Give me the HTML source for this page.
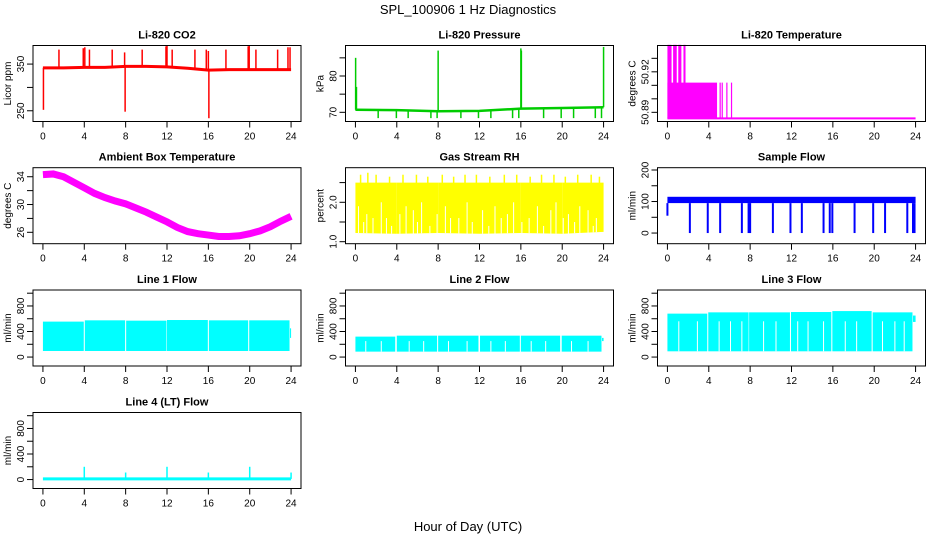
<!DOCTYPE html>
<html><head><meta charset="utf-8"><style>
html,body{margin:0;padding:0;background:#fff}
svg{display:block;font-family:"Liberation Sans",sans-serif}
</style></head><body>
<svg id="chart" width="936" height="540" viewBox="0 0 936 540" xmlns="http://www.w3.org/2000/svg">
<text x="468" y="14" text-anchor="middle" font-size="13">SPL_100906  1 Hz Diagnostics</text>
<text x="468" y="531" text-anchor="middle" font-size="13">Hour of Day (UTC)</text>
</svg>
<script>
const xTickHours = [0,4,8,12,16,20,24];
// CO2
const co2BaseHours = [0,2,4,6,8,10,12,14,16,18,20,22,24];
const co2BaseValues = [342,342,343,343,345,345,344,341,337,338,338,338,338];
const co2SpikeHours = [0.05,1.55,3.9,4.05,4.5,6.7,7.95,7.9,9.6,11.9,12,12.5,14.7,15.8,16.05,16,17.7,19.85,19.95,20.6,22.7,23.7,23.9];
const co2SpikeValues = [252,381,384,386,381,381,248,375,381,388,390,381,381,381,234,378,381,388,390,381,381,386,386];
// Pressure
const presBaseHours = [0,4,8,12,16,20,24];
const presBaseValues = [70.7,70.6,70.3,70.4,71.0,71.2,71.4];
const presUpHours = [0.02,0.1,8,16,16.05,24];
const presUpValues = [85,77,87,87.6,87,88];
const presDownHours = [2.2,3.96,5.1,7.3,7.9,10.2,11.9,13.1,15.2,15.8,18.2,19.9,21.1,23.2,23.8];
const presDownValues = [68.4,68.4,68.4,68.4,68.4,68.4,68.4,68.4,68.4,68.4,68.4,68.4,68.4,68.4,68.4];
// Li-820 temperature
const litHighStarts = [0,0.55,1.05,1.55];
const litHighEnds = [0.4,0.9,1.35,1.75];
const litHighValue = [50.94];
const litMidValue = [50.912];
const litMidEnd = [4.8];
const litLineHours = [5.1,5.3,5.75,6.2];
const litBaseValue = [50.8855];
// Ambient
const ambHours = [0,1,2,3,4,5,6,7,8,9,10,11,12,13,14,15,16,17,18,19,20,21,22,23,24];
const ambValues = [34.3,34.4,34.0,33.2,32.4,31.6,31.0,30.5,30.1,29.5,28.9,28.2,27.5,26.7,26.1,25.8,25.6,25.4,25.4,25.5,25.8,26.2,26.8,27.6,28.3];
// RH
const rhHours = [0,4,8,12,16,20,24];
const rhLow = [1.22,1.2,1.22,1.2,1.22,1.2,1.25];
const rhHigh = [2.5,2.5,2.5,2.5,2.5,2.5,2.5];
const rhGapHours = [0.3,1.1,2.5,3.0,4.9,5.6,6.4,7.9,8.7,10.0,10.8,12.3,13.5,14.7,15.3,16.8,17.6,18.9,19.4,20.6,21.7,22.5,23.3,0.8,1.7,3.5,4.3,6.0,7.2,9.2,11.3,12.9,14.1,16.1,18.2,20.1,21.2,23.0];
const rhGapTop = [1.9,1.7,2.0,1.6,1.9,1.8,2.0,1.7,1.9,1.6,2.0,1.8,1.9,1.7,2.0,1.6,1.9,1.8,2.0,1.7,1.9,1.8,1.6,1.5,1.6,1.4,1.7,1.5,1.4,1.6,1.5,1.4,1.6,1.5,1.4,1.6,1.5,1.4];
const rhSpikeHours = [0.5,1.2,2.0,3.3,4.6,5.9,7.0,8.4,9.5,10.6,11.7,13.0,14.4,15.6,16.9,18.0,19.2,20.3,21.5,22.8,23.6];
const rhSpikeValues = [2.7,2.75,2.7,2.65,2.7,2.7,2.65,2.7,2.65,2.7,2.7,2.65,2.7,2.7,2.65,2.7,2.7,2.65,2.7,2.7,2.65];
// Sample flow
const sfBandLow = [95];
const sfBandHigh = [115];
const sfDownHours = [2.17,3.9,5.1,7.2,7.85,8.0,10.2,11.9,13.0,15.1,15.7,15.95,18.1,19.9,21.05,23.2,23.75,23.9];
// Line flows
const l1Starts = [0,4.05,8.05,12.0,16.05,19.95];
const l1Ends = [3.95,7.95,11.95,15.95,19.85,23.85];
const l1Tops = [555,575,570,580,575,575];
const l2Starts = [0,4.0,8.0,12.05,16.0,19.95];
const l2Ends = [3.85,7.9,11.9,15.9,19.8,23.8];
const l2Tops = [320,335,335,335,335,335];
const l3Starts = [0,3.95,7.9,11.95,15.95,19.85];
const l3Ends = [3.85,7.85,11.85,15.85,19.75,23.7];
const l3Tops = [680,700,700,705,720,700];
const l3GapHours = [1.1,2.9,5.0,6.1,7.2,9.3,10.5,12.6,13.6,15.1,17.2,18.3,20.8,22.0,22.9];
const l2GapHours = [1.0,2.5,5.2,6.6,9.0,10.8,13.1,14.5,17.0,18.4,20.9,22.5];
const l4SpikeHours = [4,8,12,16,20,24];
const l4SpikeValues = [200,110,200,110,200,110];

const svg = document.getElementById('chart');
const NS = 'http://www.w3.org/2000/svg';
const colLeft = [33,345.5,657.5], rowTop = [45.5,167.7,290,412.5], W = 268, H = 76;
function mk(tag, attrs, parent){ const e=document.createElementNS(NS,tag); for(const k in attrs) e.setAttribute(k,attrs[k]); (parent||svg).appendChild(e); return e; }

function panel(c, r, title, ylab, ylo, yhi, ticks, labels, name){
  const x0=colLeft[c], y0=rowTop[r];
  const g = mk('g',{});
  
  
  const sx = h => x0 + (h+0.96)/25.92*W;
  const sy = v => y0 + (yhi-v)/(yhi-ylo)*H;
  const t = mk('text',{x:x0+W/2,y:y0-7,'text-anchor':'middle','font-size':11,'font-weight':'bold'},g);
  t.textContent = title;
  
  
  const yl = mk('text',{x:0,y:0,'text-anchor':'middle','font-size':10,transform:`translate(${x0-22},${y0+H/2}) rotate(-90)`},g);
  yl.textContent = ylab;
  
  
  const plot = mk('g',{},g);
  
  
  xTickHours.forEach(h=>{
    mk('line',{x1:sx(h),x2:sx(h),y1:y0+H,y2:y0+H+6,stroke:'#000'},g);
    const lt = mk('text',{x:sx(h),y:y0+H+18,'text-anchor':'middle','font-size':10},g);
    lt.textContent = h;
    
    
  });
  ticks.forEach((v,i)=>{
    mk('line',{x1:x0-6,x2:x0,y1:sy(v),y2:sy(v),stroke:'#000'},g);
    if(labels[i]!==''){
      const lt = mk('text',{x:0,y:0,'text-anchor':'middle','font-size':10,transform:`translate(${x0-9},${sy(v)}) rotate(-90)`},g);
      lt.textContent = labels[i];
      
      
    }
  });
  mk('rect',{x:x0,y:y0,width:W,height:H,fill:'none',stroke:'#000'},g);
  return {sx,sy,plot};
}
function vline(p,h,v1,v2,col,w){ mk('line',{x1:p.sx(h),x2:p.sx(h),y1:p.sy(v1),y2:p.sy(v2),stroke:col,'stroke-width':w||1.5},p.plot); }
function poly(p,hs,vs,col,w){ mk('polyline',{points:hs.map((h,i)=>p.sx(h)+','+p.sy(vs[i])).join(' '),fill:'none',stroke:col,'stroke-width':w||2},p.plot); }
function rect(p,h1,h2,v1,v2,col){ mk('rect',{x:p.sx(h1),y:p.sy(v2),width:p.sx(h2)-p.sx(h1),height:p.sy(v1)-p.sy(v2),fill:col},p.plot); }
function interp(hs,vs,h){ for(let i=1;i<hs.length;i++){ if(h<=hs[i]){ const f=(h-hs[i-1])/(hs[i]-hs[i-1]); return vs[i-1]+f*(vs[i]-vs[i-1]); } } return vs[vs.length-1]; }

// CO2
let p = panel(0,0,'Li-820 CO2','Licor ppm',227,389.8,[250,300,350],['250','','350'],'co2');
co2SpikeHours.forEach((h,i)=>vline(p,h,interp(co2BaseHours,co2BaseValues,h),co2SpikeValues[i],'#ff0000',1.5));
poly(p,co2BaseHours,co2BaseValues,'#ff0000',3);
// Pressure
p = panel(1,0,'Li-820 Pressure','kPa',67.47,88.4,[70,75,80,85],['70','','80',''],'pressure');
presUpHours.forEach((h,i)=>vline(p,h,interp(presBaseHours,presBaseValues,h),presUpValues[i],'#00cc00',1.5));
presDownHours.forEach((h,i)=>vline(p,h,interp(presBaseHours,presBaseValues,h),presDownValues[i],'#00cc00',1.5));
poly(p,presBaseHours,presBaseValues,'#00cc00',2.5);
// Li temp
p = panel(2,0,'Li-820 Temperature','degrees C',50.8832,50.9395,[50.89,50.90,50.91,50.92,50.93],['50.89','','','50.92',''],'li820-temperature');
litHighStarts.forEach((h,i)=>rect(p,h,litHighEnds[i],litBaseValue[0],litHighValue[0],'#ff00ff'));
rect(p,0,litMidEnd[0],litBaseValue[0],litMidValue[0],'#ff00ff');
litLineHours.forEach(h=>vline(p,h,litBaseValue[0],litMidValue[0],'#ff00ff',1.2));
poly(p,[0,24],[litBaseValue[0],litBaseValue[0]],'#ff00ff',2);
// Ambient
p = panel(0,1,'Ambient Box Temperature','degrees C',24.36,35.3,[26,28,30,32,34],['26','','30','','34'],'ambient-temperature');
poly(p,ambHours,ambValues,'#ff00ff',7);
// RH
p = panel(1,1,'Gas Stream RH','percent',0.949,2.878,[1.0,1.5,2.0,2.5],['1.0','','2.0',''],'gas-stream-rh');
for(let i=1;i<rhHours.length;i++) mk('polygon',{points:[[rhHours[i-1],rhHigh[i-1]],[rhHours[i],rhHigh[i]],[rhHours[i],rhLow[i]],[rhHours[i-1],rhLow[i-1]]].map(q=>p.sx(q[0])+','+p.sy(q[1])).join(' '),fill:'#ffff00'},p.plot);
rhSpikeHours.forEach((h,i)=>vline(p,h,2.4,rhSpikeValues[i],'#ffff00',1.5));
rhGapHours.forEach((h,i)=>vline(p,h,interp(rhHours,rhLow,h),rhGapTop[i],'#ffffff',1));
// Sample flow
p = panel(2,1,'Sample Flow','ml/min',-33.8,207.3,[0,50,100,150,200],['0','','100','','200'],'sample-flow');
rect(p,0,24,sfBandLow[0],sfBandHigh[0],'#0000ff');
sfDownHours.forEach(h=>vline(p,h,0,sfBandLow[0],'#0000ff',2));
vline(p,0,55,sfBandLow[0],'#0000ff',2);
// Line flows
const flowTicks=[0,200,400,600,800,1000], flowLabels=['0','','400','','800',''];
function segs(p,s,e,t,b){ s.forEach((h,i)=>rect(p,h,e[i],b,t[i],'#00ffff')); }
p = panel(0,2,'Line 1 Flow','ml/min',-140,1050,flowTicks,flowLabels,'line1-flow');
segs(p,l1Starts,l1Ends,l1Tops,95); rect(p,23.9,24,300,450,'#00ffff');
p = panel(1,2,'Line 2 Flow','ml/min',-140,1050,flowTicks,flowLabels,'line2-flow');
segs(p,l2Starts,l2Ends,l2Tops,85); rect(p,23.85,24,250,300,'#00ffff');
l2GapHours.forEach(h=>vline(p,h,85,250,'#ffffff',1));
p = panel(2,2,'Line 3 Flow','ml/min',-140,1050,flowTicks,flowLabels,'line3-flow');
segs(p,l3Starts,l3Ends,l3Tops,90); rect(p,23.75,24,550,650,'#00ffff');
l3GapHours.forEach(h=>vline(p,h,90,560,'#ffffff',1));
p = panel(0,3,'Line 4 (LT) Flow','ml/min',-140,1050,flowTicks,flowLabels,'line4-flow');
l4SpikeHours.forEach((h,i)=>vline(p,h,10,l4SpikeValues[i],'#00ffff',1.5));
poly(p,[0,24],[10,10],'#00ffff',3);
</script>
</body></html>
